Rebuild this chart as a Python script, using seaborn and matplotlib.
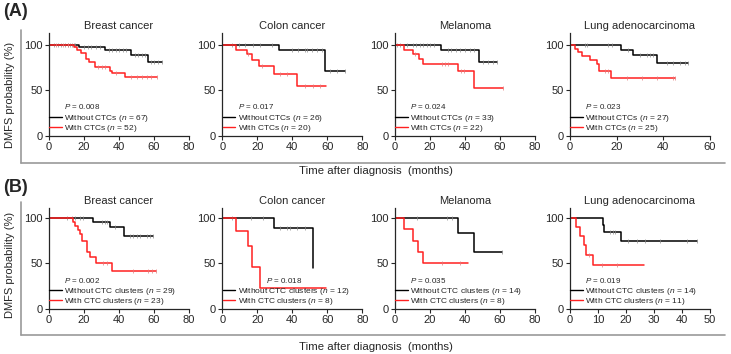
import numpy as np
import pandas as pd
import matplotlib
matplotlib.use('Agg')
import matplotlib.pyplot as plt
from matplotlib.lines import Line2D
import seaborn as sns

# Kaplan-Meier curves: step times (months), survival (%), censor times

# (A) CTCs vs no CTCs
a_breast_wo_t = [0, 17, 31.9, 46.6, 56.5, 64.5]
a_breast_wo_s = [100, 97.5, 95, 89.4, 81, 81]
a_breast_wo_c = [3, 5, 7, 9, 11, 12, 13, 14, 15, 20, 22, 24, 27, 29, 34, 36, 38, 40, 42, 44,
                 49, 51, 53, 55, 58, 60, 62, 64.5]
a_breast_w_t = [0, 14.2, 16.1, 18, 20.9, 22.8, 26.2, 35.1, 36.1, 43.3, 61.8]
a_breast_w_s = [100, 98, 94, 91, 85, 81, 76, 71, 69, 64.5, 64.5]
a_breast_w_c = [4, 8, 11, 28, 30, 32, 38, 47, 50, 53, 56, 58, 61.8]

a_colon_wo_t = [0, 32.6, 58.7, 70]
a_colon_wo_s = [100, 94, 71, 71]
a_colon_wo_c = [5.3, 9.7, 13, 17.3, 21.5, 28.2, 39.6, 43.4, 47.2, 48.2, 51, 53.9, 56.8,
                61.5, 65.3, 70]
a_colon_w_t = [0, 7.8, 13.9, 16.8, 21.2, 29.5, 42.5, 59.3]
a_colon_w_s = [100, 94, 90, 83, 76.5, 68.5, 55, 55]
a_colon_w_c = [14.9, 22.5, 33, 36.8, 47.2, 52, 55.8]

a_mel_wo_t = [0, 26.1, 48, 58]
a_mel_wo_s = [100, 95, 81.5, 81.5]
a_mel_wo_c = [1, 3, 7, 10, 12, 14, 16, 18, 20, 22, 30, 32, 35, 37, 40, 43, 45, 50, 53, 56, 58]
a_mel_w_t = [0, 5.3, 10.1, 13.5, 15.8, 35.8, 45.3, 61.5]
a_mel_w_s = [100, 95, 90, 85, 79, 71, 52.5, 52.5]
a_mel_w_c = [11.4, 26.7, 28.6, 30.5, 37.5, 39.4, 61.5]

a_lung_wo_t = [0, 21.7, 26.9, 37.1, 50.7]
a_lung_wo_s = [100, 95, 89, 80, 80]
a_lung_wo_c = [6.4, 7.1, 16.4, 17.9, 25, 30, 32.9, 34.3, 35.7, 41.4, 44.3, 47.1, 49.3, 50.7]
a_lung_w_t = [0, 2.0, 3.4, 5.1, 8.4, 11.7, 12.4, 17.7, 45.1]
a_lung_w_s = [100, 96, 92, 88, 83.5, 79, 71.5, 64, 64]
a_lung_w_c = [15, 16.4, 24.3, 30.7, 37.1, 44.3, 45.1]

# (B) CTC clusters vs no CTC clusters
b_breast_wo_t = [0, 25.3, 34.9, 43, 59.6]
b_breast_wo_s = [100, 95, 89.4, 80.5, 80.5]
b_breast_wo_c = [10, 13, 15, 17.7, 19.6, 30, 32, 33, 37.7, 46.3, 48.2, 50, 52, 55.8, 57.7, 59.6]
b_breast_w_t = [0, 13.5, 15, 16.4, 17.7, 18.8, 21.9, 23.4, 26.7, 35.8, 61.1]
b_breast_w_s = [100, 95.7, 91.3, 87, 82.6, 75, 62.2, 57, 50, 41.6, 41.6]
b_breast_w_c = [31, 33, 48.2, 56.8, 58.7, 61.1]

b_colon_wo_t = [0, 29.7, 52]
b_colon_wo_s = [100, 89, 44.5]
b_colon_wo_c = [5.3, 16.4, 23, 33, 36.8, 38.7, 42.5, 47.2]
b_colon_w_t = [0, 7.6, 14.5, 17.1, 21.5, 59.2]
b_colon_w_s = [100, 85.7, 68.9, 46, 23, 23]
b_colon_w_c = []

b_mel_wo_t = [0, 35.8, 45.3, 61]
b_mel_wo_s = [100, 83, 62.2, 62.2]
b_mel_wo_c = [12.4, 29.5, 32.4, 61]
b_mel_w_t = [0, 5.3, 10.1, 13.3, 15.8, 41.9]
b_mel_w_s = [100, 87.5, 75, 62.5, 50, 50]
b_mel_w_c = [26.7, 37.1]

b_lung_wo_t = [0, 11.7, 12.3, 18.1, 45.5]
b_lung_wo_s = [100, 92, 84.5, 74, 74]
b_lung_wo_c = [14.3, 15.2, 16.1, 20.8, 23.8, 26.8, 32.1, 41.7, 45.2]
b_lung_w_t = [0, 2.1, 3.6, 5, 5.7, 8.3, 26.4]
b_lung_w_s = [100, 89.5, 79.5, 70, 59.5, 47.7, 47.7]
b_lung_w_c = [6.8, 11.3, 16.7]

titles = ['Breast cancer', 'Colon cancer', 'Melanoma', 'Lung adenocarcinoma']
p_values_a = ['0.008', '0.017', '0.024', '0.023']
p_values_b = ['0.002', '0.018', '0.035', '0.019']
n_a = [(67, 52), (26, 20), (33, 22), (27, 25)]
n_b = [(29, 23), (12, 8), (14, 8), (14, 11)]
xmax_a = [80, 80, 80, 60]
xmax_b = [80, 80, 80, 50]
xstep_b = [20, 20, 20, 10]

curves_a = [
    ((a_breast_wo_t, a_breast_wo_s, a_breast_wo_c), (a_breast_w_t, a_breast_w_s, a_breast_w_c)),
    ((a_colon_wo_t, a_colon_wo_s, a_colon_wo_c), (a_colon_w_t, a_colon_w_s, a_colon_w_c)),
    ((a_mel_wo_t, a_mel_wo_s, a_mel_wo_c), (a_mel_w_t, a_mel_w_s, a_mel_w_c)),
    ((a_lung_wo_t, a_lung_wo_s, a_lung_wo_c), (a_lung_w_t, a_lung_w_s, a_lung_w_c)),
]
curves_b = [
    ((b_breast_wo_t, b_breast_wo_s, b_breast_wo_c), (b_breast_w_t, b_breast_w_s, b_breast_w_c)),
    ((b_colon_wo_t, b_colon_wo_s, b_colon_wo_c), (b_colon_w_t, b_colon_w_s, b_colon_w_c)),
    ((b_mel_wo_t, b_mel_wo_s, b_mel_wo_c), (b_mel_w_t, b_mel_w_s, b_mel_w_c)),
    ((b_lung_wo_t, b_lung_wo_s, b_lung_wo_c), (b_lung_w_t, b_lung_w_s, b_lung_w_c)),
]

sns.set_style('ticks')
plt.rcParams['font.family'] = ['Liberation Sans', 'DejaVu Sans']
plt.rcParams['mathtext.fontset'] = 'custom'
plt.rcParams['mathtext.rm'] = 'Liberation Sans'
plt.rcParams['mathtext.it'] = 'Liberation Sans:italic'

W, H = 731, 354
fig = plt.figure(figsize=(W / 100, H / 100), dpi=100)

lefts = [49, 222.3, 395, 570]
panel_w = 140


def km(ax, t, s, c, color, tick_color, label):
    df = pd.DataFrame({'t': t, 's': s})
    sns.lineplot(data=df, x='t', y='s', drawstyle='steps-post', color=color, lw=1.1,
                 estimator=None, sort=False, ax=ax, label=label)
    if len(c):
        # censor marks sit on the curve at their time
        idx = np.searchsorted(np.array(t), np.array(c), side='right') - 1
        ax.plot(c, np.array(s)[idx], ls='none', marker='|', ms=2.5, mew=0.5, color=tick_color)


def draw_row(curves, top_px, bottom_px, ytop, pvals, ns, xmaxes, xsteps, wo_txt, w_txt,
             p_y, p_x_list, spacing):
    for i in range(4):
        ax = fig.add_axes([lefts[i] / W, 1 - bottom_px / H, panel_w / W, (bottom_px - top_px) / H])
        (t0, s0, c0), (t1, s1, c1) = curves[i]
        km(ax, t0, s0, c0, 'black', '#8a8a8a', f'{wo_txt} ($\\it{{n}}$ = {ns[i][0]})')
        km(ax, t1, s1, c1, '#ff2020', '#e07a7a', f'{w_txt} ($\\it{{n}}$ = {ns[i][1]})')
        ax.set_xlim(0, xmaxes[i])
        ax.set_ylim(0, ytop)
        ax.set_xticks(np.arange(0, xmaxes[i] + 1, xsteps[i]))
        ax.set_yticks([0, 50, 100])
        ax.set_xlabel('')
        ax.set_ylabel('')
        ax.set_title(titles[i], fontsize=8, pad=3)
        ax.tick_params(labelsize=8, length=3, width=0.8, pad=1.5)
        for sp in ['top', 'right']:
            ax.spines[sp].set_visible(False)
        for sp in ['left', 'bottom']:
            ax.spines[sp].set_linewidth(0.9)
        ax.text(p_x_list[i], p_y, f'$\\it{{P}}$ = {pvals[i]}', transform=ax.transAxes,
                fontsize=5.8, ha='left', va='center')
        leg = ax.legend(loc='lower left', bbox_to_anchor=(-0.01, 0.0), frameon=False,
                        fontsize=6.0, handlelength=1.5, handletextpad=0.3,
                        labelspacing=spacing, borderpad=0.2, borderaxespad=0)
        for h in leg.get_lines():
            h.set_linewidth(1.0)


draw_row(curves_a, 32.7, 136, 113.5, p_values_a, n_a, xmax_a, [20, 20, 20, 20],
         'Without CTCs', 'With CTCs', 0.29, [0.11, 0.11, 0.11, 0.11], -0.05)
draw_row(curves_b, 208.3, 309, 110.3, p_values_b, n_b, xmax_b, xstep_b,
         'Without CTC clusters', 'With CTC clusters', 0.28, [0.11, 0.31, 0.11, 0.11], -0.1)

# gray frames around each row
gray = '#9a9a9a'
for y_top, y_bot in [(30, 163), (202, 335)]:
    fig.add_artist(Line2D([20.7 / W, 20.7 / W], [1 - y_top / H, 1 - y_bot / H], color=gray, lw=1.2))
    fig.add_artist(Line2D([20.7 / W, 725 / W], [1 - y_bot / H, 1 - y_bot / H], color=gray, lw=1.2))

fig.text(3 / W, 1 - 12 / H, '(A)', fontsize=13, fontweight='bold', ha='left', va='center')
fig.text(3 / W, 1 - 188 / H, '(B)', fontsize=13, fontweight='bold', ha='left', va='center')
fig.text(10 / W, 1 - 95 / H, 'DMFS probability (%)', fontsize=8, rotation=90, ha='center', va='center')
fig.text(10 / W, 1 - 265 / H, 'DMFS probability (%)', fontsize=8, rotation=90, ha='center', va='center')
fig.text(376 / W, 1 - 171 / H, 'Time after diagnosis  (months)', fontsize=8.2, ha='center', va='center')
fig.text(376 / W, 1 - 347 / H, 'Time after diagnosis  (months)', fontsize=8.2, ha='center', va='center')

fig.savefig('out.png', dpi=100)
plt.close(fig)
